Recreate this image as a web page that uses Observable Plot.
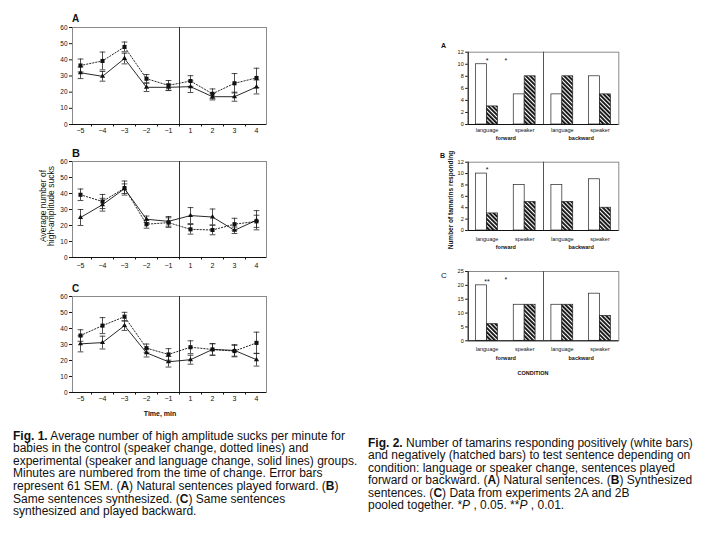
<!DOCTYPE html>
<html><head><meta charset="utf-8">
<script src="https://cdn.jsdelivr.net/npm/d3@7"></script>
<script src="https://cdn.jsdelivr.net/npm/@observablehq/plot@0.6"></script>
<style>
body{margin:0;background:#fff;font-family:"Liberation Sans",Arial,sans-serif;}
#root{position:relative;width:720px;height:540px;overflow:hidden;background:#fff;}
.cap{position:absolute;font-size:12px;line-height:12.6px;color:#111;white-space:nowrap;}
.lbl{position:absolute;color:#111;white-space:nowrap;}
</style></head><body>
<svg width="0" height="0" style="position:absolute">
  <defs>
    <pattern id="hatch" patternUnits="userSpaceOnUse" width="3" height="3" patternTransform="rotate(-45)">
      <rect x="0" y="0" width="3" height="3" fill="#fff"></rect>
      <rect x="0" y="0" width="1.9" height="3" fill="#111"></rect>
    </pattern>
  </defs>
</svg>
<div id="root"></div>
<script>
// ---------- Fig. 1 data (average high-amplitude sucks per minute) ----------
const minuteLabels = ["−5","−4","−3","−2","−1","1","2","3","4"];
const fig1YTicks = [0,10,20,30,40,50,60];

const controlA    = [36.5, 39.3, 48.0, 28.3, 24.2, 26.9, 19.0, 25.5, 28.8];
const controlASem = [4, 5.5, 3, 2.6, 3, 3.3, 3, 6, 6];
const experA      = [32.0, 29.8, 40.8, 23.0, 23.0, 23.4, 17.2, 17.2, 23.2];
const experASem   = [3.6, 3, 3.3, 2.6, 2, 3.6, 2, 2.8, 4.3];

const controlB    = [39.2, 35.0, 43.4, 20.8, 21.8, 17.6, 17.2, 20.8, 22.6];
const controlBSem = [3.6, 4.4, 4.4, 2.5, 3, 3, 3, 3.7, 3.8];
const experB      = [25.0, 33.0, 43.0, 23.9, 22.6, 26.2, 25.3, 17.0, 23.3];
const experBSem   = [5, 4, 3, 2, 3, 5, 5, 2, 6];

const controlC    = [35.6, 41.8, 47.4, 27.7, 23.8, 28.3, 26.9, 25.9, 31.0];
const controlCSem = [3.6, 5, 2.7, 2.6, 3.6, 4, 3.6, 3.6, 6.7];
const experC      = [30.4, 31.2, 41.8, 24.8, 19.2, 20.5, 26.9, 26.3, 20.5];
const experCSem   = [5, 4, 3, 2.6, 3.3, 2.8, 3.6, 3.6, 4];

// ---------- Fig. 2 data (number of tamarins responding) ----------
const conditionLabels = ["language","speaker","language","speaker"];
const directionLabels = ["forward","forward","backward","backward"];
const positiveA = [10, 5, 5, 8];
const negativeA = [3, 8, 8, 5];
const positiveB = [10, 8, 8, 9];
const negativeB = [3, 5, 5, 4];
const positiveC = [20, 13, 13, 17];
const negativeC = [6, 13, 13, 9];
const fig2TicksAB = [0,2,4,6,8,10,12];
const fig2TicksC = [0,5,10,15,20,25];
const starsA = [{group: 0, text: "*", onBar: true}, {group: 0.5, text: "*", onBar: false}];
const starsB = [{group: 0, text: "*", onBar: true}];
const starsC = [{group: 0, text: "**", onBar: true}, {group: 0.5, text: "*", onBar: false}];

const FONT = "Liberation Sans, Arial, sans-serif";
const root = document.getElementById("root");
function place(node, left, top) {
  node.style.position = "absolute";
  node.style.left = left + "px";
  node.style.top = top + "px";
  root.appendChild(node);
}
function label(html, left, top, css) {
  const d = document.createElement("div");
  d.className = "lbl";
  d.innerHTML = html;
  d.style.left = left + "px";
  d.style.top = top + "px";
  Object.assign(d.style, css || {});
  root.appendChild(d);
  return d;
}

function fig1Panel(ctrl, ctrlSem, exp, expSem, top, height, mt, mb, pad) {
  const rows = (vals, sems) => vals.map((v, i) => ({i, v, lo: v - sems[i], hi: v + sems[i]}));
  const c = rows(ctrl, ctrlSem), e = rows(exp, expSem);
  const all = c.concat(e);
  const cap = 0.13;
  const idx = minuteLabels.map((_, i) => i);
  const between = idx.slice(0, -1).map(i => i + 0.5);
  const svg = Plot.plot({
    width: 280, height, marginLeft: 72, marginRight: 14, marginTop: mt, marginBottom: mb,
    style: {fontFamily: FONT, fontSize: "7px", color: "#111", background: "transparent", overflow: "visible"},
    x: {domain: [-8/22, 8 + 10/22], axis: null},
    y: {domain: [0, 60], axis: null},
    marks: [
      Plot.frame({stroke: "#8a8a8a"}),
      Plot.ruleX([4.5], {stroke: "#333", strokeWidth: 1}),
      Plot.ruleX(all, {x: "i", y1: "lo", y2: "hi", stroke: "#222", strokeWidth: 0.8}),
      Plot.link(all, {x1: d => d.i - cap, x2: d => d.i + cap, y1: "lo", y2: "lo", stroke: "#222", strokeWidth: 0.8}),
      Plot.link(all, {x1: d => d.i - cap, x2: d => d.i + cap, y1: "hi", y2: "hi", stroke: "#222", strokeWidth: 0.8}),
      Plot.line(c, {x: "i", y: "v", stroke: "#111", strokeWidth: 0.9, strokeDasharray: "1.3,1.8"}),
      Plot.line(e, {x: "i", y: "v", stroke: "#111", strokeWidth: 0.9}),
      Plot.dot(c, {x: "i", y: "v", symbol: "square", r: 2.3, fill: "#111"}),
      Plot.dot(e, {x: "i", y: "v", symbol: "triangle", r: 1.9, fill: "#111"}),
      Plot.ruleY([0], {stroke: "#111"}),
      Plot.axisY(fig1YTicks, {tickSize: 3, tickPadding: 2, fontSize: 6.5, label: null, stroke: "#111"}),
      Plot.axisX(idx, {tickSize: 0, tickPadding: pad, fontSize: 7, label: null, tickFormat: i => minuteLabels[i]}),
      Plot.axisX(between, {tickSize: 2.5, label: null, tickFormat: () => "", stroke: "#111"})
    ]
  });
  place(svg, 0, top);
}

function fig2Panel(pos, neg, ticks, ymax, stars, top, height, mt, mb, pad, dirDy) {
  const bw = 0.29;
  const bars = pos.map((v, g) => ({g, v, x1: g - bw, x2: g, kind: "positive"}))
    .concat(neg.map((v, g) => ({g, v, x1: g, x2: g + bw, kind: "negative"})));
  const dirs = Array.from(d3.group(directionLabels.map((d, g) => ({d, g})), r => r.d),
    ([d, rs]) => ({text: d, x: d3.mean(rs, r => r.g)}));
  const barStars = stars.filter(s => s.onBar).map(s => ({...s, v: pos[s.group]}));
  const topStars = stars.filter(s => !s.onBar);
  const svg = Plot.plot({
    width: 200, height, marginLeft: 37.7, marginRight: 11.7, marginTop: mt, marginBottom: mb,
    style: {fontFamily: FONT, fontSize: "5.5px", color: "#111", background: "transparent", overflow: "visible"},
    x: {domain: [-0.5, 3.5], axis: null},
    y: {domain: [0, ymax], axis: null},
    marks: [
      Plot.frame({stroke: "#8a8a8a"}),
      Plot.ruleX([1.5], {stroke: "#555", strokeWidth: 1}),
      Plot.rect(bars, {x1: "x1", x2: "x2", y1: d => 0, y2: "v",
        fill: d => d.kind === "positive" ? "#fff" : "url(#hatch)", stroke: "#222", strokeWidth: 0.7}),
      Plot.text(barStars, {x: "group", y: "v", text: "text", dy: -3.5, fontSize: 7}),
      Plot.text(topStars, {x: "group", text: "text", frameAnchor: "top", dy: 5.5, fontSize: 7}),
      Plot.ruleY([0], {stroke: "#111"}),
      Plot.ruleX([-0.5], {stroke: "#111"}),
      Plot.axisY(ticks, {tickSize: 2.5, tickPadding: 2, fontSize: 5.5, label: null, stroke: "#111"}),
      Plot.axisX([0, 1, 2, 3], {tickSize: 0, tickPadding: pad, fontSize: 5.5, label: null, tickFormat: g => conditionLabels[g]}),
      Plot.text(dirs, {x: "x", text: "text", frameAnchor: "bottom", dy: dirDy, fontSize: 5.5, fontWeight: "bold"})
    ]
  });
  place(svg, 430, top);
}

// Fig. 1 panels
fig1Panel(controlA, controlASem, experA, experASem, 20, 120, 7, 16, 4);
fig1Panel(controlB, controlBSem, experB, experBSem, 155, 118, 6, 16, 6);
fig1Panel(controlC, controlCSem, experC, experCSem, 290, 118, 6, 16, 4);
label("A", 72, 14, {fontSize: "10px", fontWeight: "bold", lineHeight: "10px"});
label("B", 72, 147.5, {fontSize: "11px", fontWeight: "bold", lineHeight: "11px"});
label("C", 72, 284, {fontSize: "10px", fontWeight: "bold", lineHeight: "10px"});
label("Average number of<br>high-amplitude sucks", 46.5, 206,
  {fontSize: "8.5px", lineHeight: "8.4px", textAlign: "center", transform: "translate(-50%,-50%) rotate(-90deg)"});
label("Time, min", 160, 414, {fontSize: "7px", fontWeight: "bold", lineHeight: "8px", transform: "translate(-50%,-50%)"});

// Fig. 2 panels
fig2Panel(positiveA, negativeA, fig2TicksAB, 12, starsA, 45, 100, 6.7, 21, 3.3, 15);
fig2Panel(positiveB, negativeB, fig2TicksAB, 12, starsB, 155, 100, 6.7, 25, 6.5, 18.7);
fig2Panel(positiveC, negativeC, fig2TicksC, 25, starsC, 264, 115, 7, 38.7, 6.2, 19);
label("A", 441, 41.5, {fontSize: "7px", fontWeight: "bold", lineHeight: "7px"});
label("B", 440, 151.5, {fontSize: "7px", fontWeight: "bold", lineHeight: "7px"});
label("C", 441, 271.5, {fontSize: "8px", lineHeight: "8px"});
label("Number of tamarins responding", 450, 200,
  {fontSize: "6.5px", fontWeight: "bold", lineHeight: "7px", transform: "translate(-50%,-50%) rotate(-90deg)"});
label("CONDITION", 533, 373, {fontSize: "5.5px", fontWeight: "bold", lineHeight: "6px", transform: "translate(-50%,-50%)"});

// Captions
const cap1 = document.createElement("div");
cap1.className = "cap";
cap1.style.left = "13px"; cap1.style.top = "429.7px";
cap1.innerHTML = "<b>Fig. 1.</b> Average number of high amplitude sucks per minute for<br>" +
  "babies in the control (speaker change, dotted lines) and<br>" +
  "experimental (speaker and language change, solid lines) groups.<br>" +
  "Minutes are numbered from the time of change. Error bars<br>" +
  "represent 61 SEM. (<b>A</b>) Natural sentences played forward. (<b>B</b>)<br>" +
  "Same sentences synthesized. (<b>C</b>) Same sentences<br>" +
  "synthesized and played backward.";
root.appendChild(cap1);

const cap2 = document.createElement("div");
cap2.className = "cap";
cap2.style.left = "368px"; cap2.style.top = "436.5px"; cap2.style.lineHeight = "12.5px";
cap2.innerHTML = "<b>Fig. 2.</b> Number of tamarins responding positively (white bars)<br>" +
  "and negatively (hatched bars) to test sentence depending on<br>" +
  "condition: language or speaker change, sentences played<br>" +
  "forward or backward. (<b>A</b>) Natural sentences. (<b>B</b>) Synthesized<br>" +
  "sentences. (<b>C</b>) Data from experiments 2A and 2B<br>" +
  "pooled together. *<i>P</i> , 0.05. **<i>P</i> , 0.01.";
root.appendChild(cap2);
</script>
</body></html>
